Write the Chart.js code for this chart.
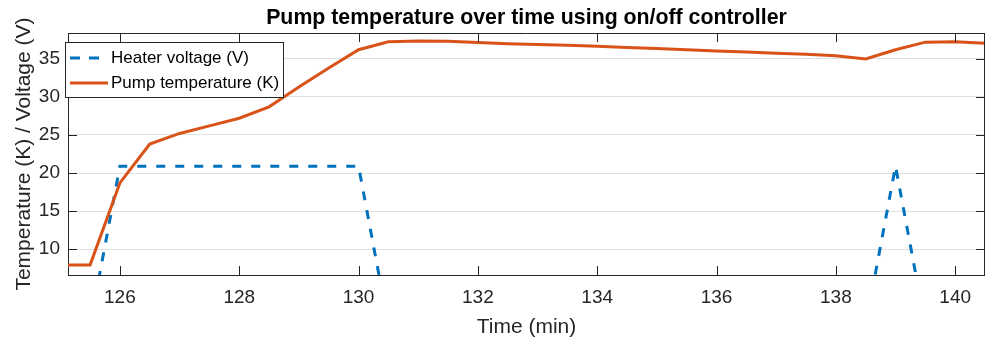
<!DOCTYPE html>
<html>
<head>
<meta charset="utf-8">
<title>Pump temperature over time</title>
<script src="https://cdn.jsdelivr.net/npm/chart.js@4/dist/chart.umd.min.js"></script>
<style>
    html, body { margin: 0; padding: 0; background: #fff; }
    #wrap { width: 985px; height: 342px; }
</style>
</head>
<body>
<div id="wrap"><canvas id="chart"></canvas></div>
<script>
/* Pump temperature vs heater voltage, on/off controller */

const timeMin = [125, 125.5, 126, 126.5, 127, 127.5, 128, 128.5, 129, 129.5, 130, 130.5,
    131, 131.5, 132, 132.5, 133, 133.5, 134, 134.5, 135, 135.5, 136, 136.5,
    137, 137.5, 138, 138.5, 139, 139.5, 140, 140.5];
const heaterVoltage = [0, 0, 20.9, 20.9, 20.9, 20.9, 20.9, 20.9, 20.9, 20.9, 20.9, 0,
    0, 0, 0, 0, 0, 0, 0, 0, 0, 0, 0, 0,
    0, 0, 0, 0, 20.9, 0, 0, 0];
const pumpTemp = [7.9, 7.9, 18.7, 23.8, 25.2, 26.2, 27.2, 28.7, 31.3, 33.8, 36.2, 37.25,
    37.35, 37.3, 37.15, 37.0, 36.9, 36.8, 36.65, 36.5, 36.35, 36.2, 36.05, 35.9,
    35.75, 35.6, 35.4, 35.0, 36.2, 37.2, 37.25, 37.05];
const xTicks = [126, 128, 130, 132, 134, 136, 138, 140];
const yTicks = [10, 15, 20, 25, 30, 35];
const seriesNames = ['Heater voltage (V)', 'Pump temperature (K)'];
const chartTitle = 'Pump temperature over time using on/off controller';

const FONT = "'Liberation Sans', Arial, Helvetica, sans-serif";
const AXIS = '#262626';
const BLUE = '#0072BD';
const ORANGE = '#D95319';

function points(ys) {
    return timeMin.map(function (t, i) { return { x: t, y: ys[i] }; });
}

// title over the axes, inward tick marks, box edges and the boxed legend (MATLAB style)
const boxPlugin = {
    id: 'box',
    afterDraw: function (chart) {
        const ctx = chart.ctx;
        const a = chart.chartArea;
        const xs = chart.scales.x;
        const ys = chart.scales.y;
        const len = 9;
        ctx.save();

        ctx.fillStyle = '#000';
        ctx.font = 'bold 21.3px ' + FONT;
        ctx.textAlign = 'center';
        ctx.textBaseline = 'middle';
        ctx.fillText(chartTitle, (a.left + a.right) / 2, 18);

        ctx.strokeStyle = AXIS;
        ctx.lineWidth = 1;
        ctx.beginPath();
        ctx.moveTo(a.left, a.top + 0.5);
        ctx.lineTo(a.right, a.top + 0.5);
        ctx.moveTo(a.right - 0.5, a.top);
        ctx.lineTo(a.right - 0.5, a.bottom);
        xTicks.forEach(function (v) {
            const px = Math.round(xs.getPixelForValue(v)) + 0.5;
            ctx.moveTo(px, a.bottom);
            ctx.lineTo(px, a.bottom - len);
            ctx.moveTo(px, a.top);
            ctx.lineTo(px, a.top + len);
        });
        yTicks.forEach(function (v) {
            const py = Math.round(ys.getPixelForValue(v)) + 0.5;
            ctx.moveTo(a.left, py);
            ctx.lineTo(a.left + len, py);
            ctx.moveTo(a.right, py);
            ctx.lineTo(a.right - len, py);
        });
        ctx.stroke();

        // legend
        const lx = 65.5, ly = 42.5, lw = 218, lh = 55;
        ctx.fillStyle = '#fff';
        ctx.fillRect(lx, ly, lw, lh);
        ctx.strokeRect(lx, ly, lw, lh);
        const rows = [
            { y: 58, color: BLUE, dash: [10, 9] },
            { y: 83, color: ORANGE, dash: [] }
        ];
        rows.forEach(function (r, i) {
            ctx.beginPath();
            ctx.setLineDash(r.dash);
            ctx.strokeStyle = r.color;
            ctx.lineWidth = 3;
            ctx.moveTo(70, r.y);
            ctx.lineTo(108, r.y);
            ctx.stroke();
            ctx.setLineDash([]);
            ctx.fillStyle = '#000';
            ctx.font = '17px ' + FONT;
            ctx.textBaseline = 'middle';
            ctx.textAlign = 'left';
            ctx.fillText(seriesNames[i], 111, r.y);
        });
        ctx.restore();
    }
};

new Chart(document.getElementById('chart'), {
    type: 'line',
    data: {
        datasets: [
            {
                label: seriesNames[0],
                data: points(heaterVoltage),
                borderColor: BLUE,
                borderWidth: 3,
                borderDash: [9, 10],
                pointRadius: 0,
                tension: 0,
                order: 1
            },
            {
                label: seriesNames[1],
                data: points(pumpTemp),
                borderColor: ORANGE,
                borderWidth: 3,
                pointRadius: 0,
                tension: 0,
                order: 0
            }
        ]
    },
    plugins: [boxPlugin],
    options: {
        responsive: true,
        maintainAspectRatio: false,
        animation: false,
        layout: { padding: { top: 33, left: 0, right: 0, bottom: 0 } },
        plugins: {
            legend: { display: false },
            tooltip: { enabled: false },
            title: { display: false }
        },
        scales: {
            x: {
                type: 'linear',
                min: 125.13,
                max: 140.5,
                afterFit: function (s) { s.height = 67; },
                afterBuildTicks: function (s) {
                    s.ticks = xTicks.map(function (v) { return { value: v }; });
                },
                ticks: {
                    color: AXIS,
                    font: { family: FONT, size: 19 },
                    padding: 11,
                    maxRotation: 0
                },
                grid: { display: false, drawTicks: false },
                border: { display: true, color: AXIS },
                title: {
                    display: true,
                    text: 'Time (min)',
                    color: AXIS,
                    font: { family: FONT, size: 21 },
                    padding: { top: 0, bottom: 2 }
                }
            },
            y: {
                min: 6.6,
                max: 38.4,
                afterFit: function (s) { s.width = 68; },
                afterBuildTicks: function (s) {
                    s.ticks = yTicks.map(function (v) { return { value: v }; });
                },
                ticks: {
                    color: AXIS,
                    font: { family: FONT, size: 19 },
                    padding: 8
                },
                grid: { color: '#e0e0e0', drawTicks: false },
                border: { display: true, color: AXIS },
                title: {
                    display: true,
                    text: 'Temperature (K) / Voltage (V)',
                    color: AXIS,
                    font: { family: FONT, size: 21 },
                    padding: { top: 12, bottom: 0 }
                }
            }
        }
    }
});
</script>
</body>
</html>
